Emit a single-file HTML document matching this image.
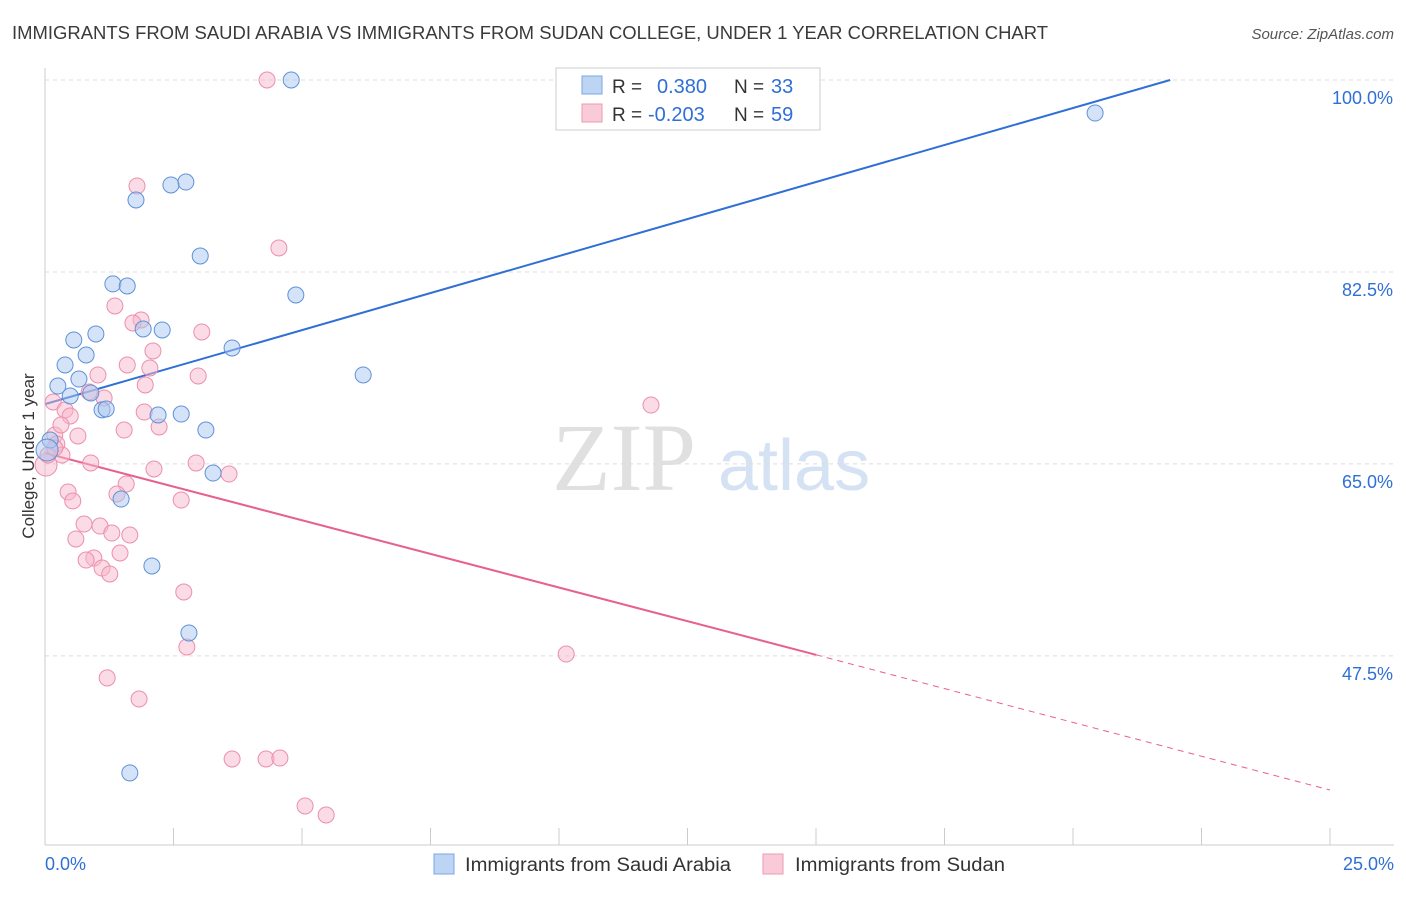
<!DOCTYPE html>
<html><head><meta charset="utf-8"><style>
body{margin:0;background:#fff;font-family:"Liberation Sans",sans-serif;}
</style></head><body>
<svg id="chart" width="1406" height="892" xmlns="http://www.w3.org/2000/svg" font-family="Liberation Sans, sans-serif">
<text x="12" y="39" font-size="18" fill="#3a3a3a" textLength="1036" lengthAdjust="spacingAndGlyphs">IMMIGRANTS FROM SAUDI ARABIA VS IMMIGRANTS FROM SUDAN COLLEGE, UNDER 1 YEAR CORRELATION CHART</text>
<text x="1394" y="39" font-size="15" fill="#555" text-anchor="end" font-style="italic">Source: ZipAtlas.com</text>
<text x="552" y="490" font-size="96" fill="#e0e0e0" font-family="Liberation Serif, serif">ZIP</text>
<text x="718" y="490" font-size="72" fill="#d4e2f4">atlas</text>
<text transform="translate(34,456) rotate(-90)" font-size="17" fill="#333" text-anchor="middle">College, Under 1 year</text>
<g id="grid"></g><g id="axes"></g><g id="trend"></g><g id="points"></g>
<g>
<rect x="556" y="68" width="264" height="62" fill="#fff" stroke="#ccc"/>
<rect x="582" y="76" width="20" height="18" fill="#bcd5f5" stroke="#7aa6e0"/>
<rect x="582" y="104" width="20" height="18" fill="#f9cbd8" stroke="#ee9ab2"/>
<text x="612" y="93" font-size="19" fill="#333">R =</text>
<text x="657" y="93" font-size="20" fill="#2f6fd6">0.380</text>
<text x="734" y="93" font-size="19" fill="#333">N =</text>
<text x="771" y="93" font-size="20" fill="#2f6fd6">33</text>
<text x="612" y="121" font-size="19" fill="#333">R =</text>
<text x="648" y="121" font-size="20" fill="#2f6fd6">-0.203</text>
<text x="734" y="121" font-size="19" fill="#333">N =</text>
<text x="771" y="121" font-size="20" fill="#2f6fd6">59</text>
</g>
<g>
<rect x="434" y="854" width="20" height="20" fill="#bcd5f5" stroke="#7aa6e0"/>
<text x="465" y="871" font-size="19" fill="#333" textLength="266" lengthAdjust="spacingAndGlyphs">Immigrants from Saudi Arabia</text>
<rect x="763" y="854" width="20" height="20" fill="#f9cbd8" stroke="#ee9ab2"/>
<text x="795" y="871" font-size="19" fill="#333" textLength="210" lengthAdjust="spacingAndGlyphs">Immigrants from Sudan</text>
</g>
</svg>
<script>
const xMin=0,xMax=25,yMin=30.26,yMax=100;
const yTicks=[100,82.5,65,47.5];
const yTickLabels=["100.0%","82.5%","65.0%","47.5%"];
const xTickCount=10;
const xEndLabels=["0.0%","25.0%"];
const saudiX=[4.79,20.43,2.74,2.45,1.77,3.02,1.32,1.60,4.88,0.56,0.99,1.91,2.28,3.64,0.39,0.80,0.25,0.66,0.49,0.89,1.11,1.19,2.20,2.65,3.13,6.19,3.27,1.48,2.08,2.80,1.65,0.10,0.04];
const saudiY=[100,96.99,90.70,90.43,89.06,83.96,81.41,81.22,80.40,76.30,76.85,77.30,77.21,75.57,74.02,74.93,72.10,72.74,71.19,71.47,69.93,70.01,69.46,69.55,68.09,73.11,64.17,61.80,55.70,49.59,36.83,67.18,66.27];
const sudanX=[4.32,1.79,4.55,1.36,1.87,1.71,3.05,2.10,1.60,2.04,2.98,1.03,1.95,0.86,1.15,0.16,0.39,1.93,0.49,2.22,1.54,0.64,0.19,0.23,0.33,0.89,2.12,2.94,3.58,0.45,1.58,1.40,2.65,0.54,0.76,1.07,1.30,1.65,0.60,0.95,0.80,1.46,1.11,1.26,2.70,2.76,10.14,1.21,1.83,3.64,4.30,4.57,5.06,5.47,11.79,0.02,0.06,0.19,0.31];
const sudanY=[100,90.34,84.69,79.40,78.12,77.85,77.03,75.30,74.02,73.75,73.02,73.11,72.20,71.56,71.01,70.65,69.92,69.73,69.37,68.37,68.09,67.55,67.64,66.82,65.81,65.09,64.54,65.09,64.08,62.44,63.17,62.26,61.71,61.62,59.52,59.34,58.70,58.52,58.16,56.42,56.24,56.88,55.51,54.97,53.33,48.31,47.67,45.49,43.57,38.10,38.10,38.19,33.82,33.00,70.37,64.90,65.81,66.45,68.55];
const saudiTrend=[[0,70.45],[21.89,100]];
const sudanTrendSolid=[[0,66.0],[15.0,47.6]];
const sudanTrendDash=[[15.0,47.6],[25,35.27]];
const X=v=>45+(v-xMin)/(xMax-xMin)*1285;
const Y=v=>80+(yMax-v)/(yMax-yMin)*765;
const NS="http://www.w3.org/2000/svg";
function mk(tag,attrs,parent){const e=document.createElementNS(NS,tag);for(const k in attrs)e.setAttribute(k,attrs[k]);document.getElementById(parent).appendChild(e);return e;}
yTicks.forEach((t,i)=>{
 const g=mk('line',{x1:45,x2:1394,y1:Y(t),y2:Y(t),stroke:'#ddd','stroke-dasharray':'4,4'},'grid');
 
 
 const tx=mk('text',{x:1393,y:Y(t)+24,'font-size':18,fill:'#2f6fd6','text-anchor':'end'},'axes');
 tx.textContent=yTickLabels[i];
 
 
});
const ya=mk('line',{x1:45,x2:45,y1:68,y2:845,stroke:'#ccc'},'axes');


const xa=mk('line',{x1:45,x2:1394,y1:845,y2:845,stroke:'#ccc'},'axes');


for(let i=0;i<=xTickCount;i++){
 const v=xMin+(xMax-xMin)*i/xTickCount;
 const t=mk('line',{x1:X(v),x2:X(v),y1:828,y2:845,stroke:'#ccc'},'axes');
 
 
}
[[xMin,'start',45],[xMax,'end',1394]].forEach((d,i)=>{
 const t=mk('text',{x:d[2],y:870,'font-size':18,fill:'#2f6fd6','text-anchor':d[1]},'axes');
 t.textContent=xEndLabels[i];
 
 
});
function line(p,color,dash,name){
 const l=mk('line',{x1:X(p[0][0]),y1:Y(p[0][1]),x2:X(p[1][0]),y2:Y(p[1][1]),stroke:color,'stroke-width':dash?1:2,'stroke-dasharray':dash?'6,5':'none'},'trend');
 
 
}
line(saudiTrend,'#2f6fd6',false,'saudi-trend-line');
line(sudanTrendSolid,'#e8608e',false,'sudan-trend-line');
line(sudanTrendDash,'#e8608e',true,'sudan-trend-extension');
function pts(xs,ys,fill,stroke,name){
 xs.forEach((x,i)=>{
  const r=(x<0.05)?11:8;
  const c=mk('circle',{cx:X(x),cy:Y(ys[i]),r:r,fill:fill,'fill-opacity':0.5,stroke:stroke,'stroke-width':1},'points');
  
  
 });
}
pts(sudanX,sudanY,'#f7b8cb','#ec8fac','sudan-point');
pts(saudiX,saudiY,'#a9c8f0','#5f92d8','saudi-point');
</script>
</body></html>
